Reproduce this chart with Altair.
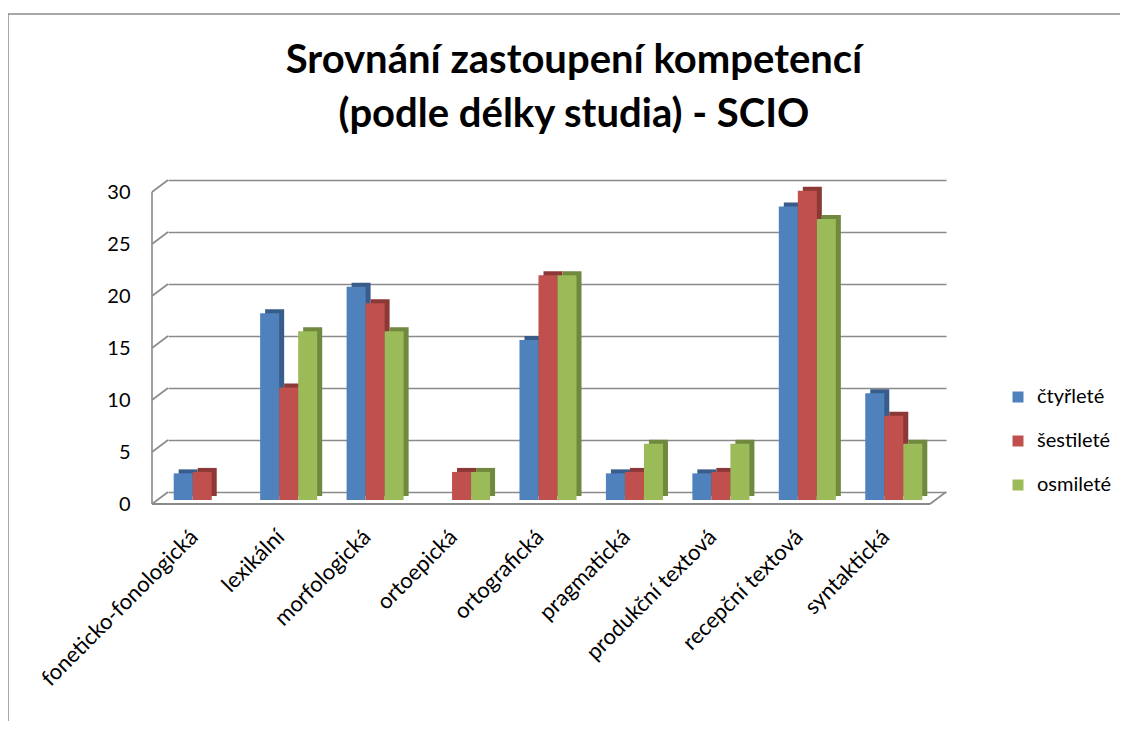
import altair as alt
import pandas as pd

categories = ["foneticko-fonologická", "lexikální", "morfologická", "ortoepická",
              "ortografická", "pragmatická", "produkční textová", "recepční textová",
              "syntaktická"]
series = ["čtyřleté", "šestileté", "osmileté"]
ctyrlete = [2.56, 17.95, 20.51, 0.0, 15.38, 2.56, 2.56, 28.21, 10.26]
sestilete = [2.70, 10.81, 18.92, 2.70, 21.62, 2.70, 2.70, 29.73, 8.11]
osmilete = [0.0, 16.22, 16.22, 2.70, 21.62, 5.41, 5.41, 27.03, 5.41]
tick_values = [0, 5, 10, 15, 20, 25, 30]

front_colors = ["#4F81BD", "#C0504D", "#9BBB59"]
dark_colors = ["#385D8A", "#8C3836", "#71893F"]

rows = []
for s, vals in zip(series, [ctyrlete, sestilete, osmilete]):
    for c, v in zip(categories, vals):
        rows.append({"kategorie": c, "skupina": s, "hodnota": v})
df = pd.DataFrame(rows)
ticks_df = pd.DataFrame({"t": tick_values})

W, H = 778, 312
DX, DY = 16, 12
FONT = "Lato"
PAD_IN = 0.34
STEP = W / 9.0
BW = STEP * (1 - PAD_IN)

xscale = alt.Scale(paddingInner=PAD_IN, paddingOuter=PAD_IN / 2)
yscale = alt.Scale(domain=[0, 30], nice=False)

x_enc = alt.X("kategorie:N", sort=categories, scale=xscale, title=None,
              axis=alt.Axis(labelAngle=-45, labelAlign="right", labelBaseline="middle",
                            labelPadding=41, labelOffset=-17, domain=False, ticks=False,
                            tickSize=0, labelFontSize=22, labelFont=FONT, labelLimit=400,
                            labelColor="#000000", grid=False))
y_enc = alt.Y("hodnota:Q", scale=yscale, title=None,
              axis=alt.Axis(values=tick_values, grid=True, gridColor="#8a8a8a",
                            gridWidth=1.6, domain=False, ticks=False, tickSize=0,
                            labelPadding=38, labelOffset=DY, labelFontSize=20,
                            labelFont=FONT, labelColor="#000000"))


def xo(shift):
    return alt.XOffset("skupina:N", sort=series,
                       scale=alt.Scale(paddingInner=0, paddingOuter=0,
                                       range=[shift, BW + shift]))


border = alt.Chart(pd.DataFrame({"a": [0]})).mark_rect(
    fillOpacity=0, stroke="#8a8a8a", strokeWidth=1.5
).encode(x=alt.value(-160), x2=alt.value(W + 600), y=alt.value(-166), y2=alt.value(H + 600))

diag = alt.Chart(ticks_df).mark_rule(color="#8a8a8a", strokeWidth=1.6, yOffset=DY).encode(
    x=alt.value(-DX), x2=alt.value(0),
    y=alt.Y("t:Q", scale=yscale), y2="t:Q")

front_edge = alt.Chart(pd.DataFrame({"a": [0]})).mark_rule(
    color="#8a8a8a", strokeWidth=1.6, yOffset=DY, y2Offset=DY
).encode(x=alt.value(-DX), y=alt.datum(30, scale=yscale), y2=alt.datum(0))

floor_front = alt.Chart(pd.DataFrame({"a": [0]})).mark_rule(
    color="#8a8a8a", strokeWidth=1.8, yOffset=DY
).encode(x=alt.value(-DX), x2=alt.value(W - DX), y=alt.datum(0, scale=yscale))

floor_right = alt.Chart(pd.DataFrame({"a": [0]})).mark_rule(
    color="#8a8a8a", strokeWidth=1.6, yOffset=DY
).encode(x=alt.value(W - DX), x2=alt.value(W), y=alt.datum(0, scale=yscale), y2=alt.datum(0))

dark = alt.Chart(df).mark_bar(yOffset=4, y2Offset=4).encode(
    x=x_enc, xOffset=xo(-4), y=y_enc,
    color=alt.Color("skupina:N", sort=series,
                    scale=alt.Scale(domain=series, range=dark_colors), legend=None))

front = alt.Chart(df).mark_bar(yOffset=8, y2Offset=8).encode(
    x=x_enc, xOffset=xo(-9), y=y_enc,
    color=alt.Color("skupina:N", sort=series, title=None,
                    scale=alt.Scale(domain=series, range=front_colors),
                    legend=alt.Legend(orient="none", legendX=840, legendY=207,
                                      symbolType="square", symbolSize=121,
                                      symbolStrokeWidth=0, labelFontSize=20,
                                      labelFont=FONT, labelColor="#000000",
                                      rowPadding=24, labelOffset=9)))

chart = alt.layer(border, diag, front_edge, floor_right, dark, front, floor_front).resolve_scale(
    color="independent", xOffset="independent"
).properties(
    width=W, height=H,
    autosize=alt.AutoSizeParams(type="none"),
    padding={"left": 160, "top": 172, "right": 174, "bottom": 229},
    title=alt.TitleParams(
        text=["Srovnání zastoupení kompetencí", "(podle délky studia) - SCIO"],
        fontSize=40, font=FONT, fontWeight="bold", color="#000000",
        lineHeight=54, anchor="middle", dx=17, dy=166, offset=44
    )
).configure_view(stroke=None)

chart.save("out.html", embed_options={"renderer": "svg", "actions": False})
